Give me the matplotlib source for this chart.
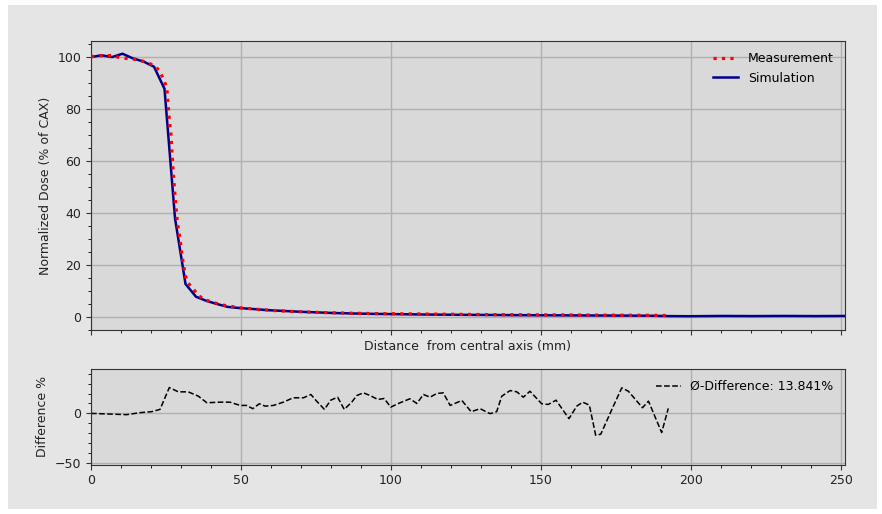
import matplotlib
matplotlib.use('Agg')
import matplotlib.pyplot as plt
from matplotlib.patches import Rectangle
from matplotlib.ticker import MultipleLocator

plt.rcParams['font.size'] = 9

# measured profile (red dotted)
meas_x = [0, 1.3, 4.1, 6.9, 9.7, 12.4, 15.2, 18.0, 20.6, 22.7, 23.9, 25.0, 25.4, 26.1, 26.7,
          27.2, 28.0, 28.8, 29.7, 30.4, 31.3, 32.1, 34.1, 35.8, 38.3, 41.0, 43.9, 46.6, 49.1,
          55, 60.8, 68, 77.4, 85, 95, 105, 115, 125, 135, 145, 155, 165, 175, 185, 191.5]
meas_y = [100.3, 100.2, 100.6, 100.6, 99.8, 99.4, 99.1, 98.2, 97.0, 95.0, 92.1, 89.0, 86.3, 75.9, 69.5,
          59.3, 46.5, 36.2, 29.8, 23.2, 16.8, 13.4, 10.8, 8.2, 6.5, 5.5, 4.6, 4.1, 3.6,
          3.0, 2.5, 2.1, 1.7, 1.5, 1.3, 1.2, 1.1, 1.0, 0.9, 0.85, 0.8, 0.75, 0.7, 0.65, 0.6]

# simulated profile (blue)
sim_x = [0, 3.5, 7, 10.5, 14, 17.5, 21, 24.5, 28, 31.5, 35, 38.5, 42, 45.5, 49, 52.5, 56, 59.5,
         63, 66.5, 70, 77, 80.5, 87.5, 94.5, 101.5, 112, 122.5, 133, 143.5, 154, 164.5, 175,
         185.5, 192.5, 199.5, 210, 220.5, 231, 241.5, 251.3]
sim_y = [100.0, 100.7, 100.0, 101.3, 99.5, 98.3, 96.3, 87.8, 38.0, 12.7, 7.8, 6.2, 5.0, 3.9, 3.5, 3.2, 2.9, 2.6,
         2.4, 2.2, 2.0, 1.7, 1.55, 1.35, 1.2, 1.1, 0.95, 0.85, 0.78, 0.7, 0.65, 0.6, 0.55,
         0.5, 0.35, 0.3, 0.4, 0.35, 0.4, 0.35, 0.4]

# relative difference (%)
diff_x = [0, 11.9, 16.3, 20.2, 23.0, 26.1, 29.1, 32.4, 35.8, 38.6, 43.0, 46.3, 49.7, 51.9, 53.9,
          56.1, 58.0, 60.8, 64.1, 67.4, 70.8, 73.3, 75.2, 77.8, 79.9, 82.2, 84.4, 86.9, 88.6,
          90.8, 93.0, 95.6, 97.7, 99.9, 103.0, 106.3, 108.6, 110.8, 113.0, 115.2, 117.4, 119.7,
          123.6, 126.7, 129.7, 133.0, 135.2, 136.9, 139.7, 141.9, 144.1, 146.3, 150.2, 152.4,
          155.0, 159.3, 161.9, 163.9, 166.1, 168.2, 169.9, 173.6, 176.9, 179.1, 183.8, 185.8,
          190.2, 192.4]
diff_y = [0, -1.3, 0.7, 1.7, 4.0, 26.0, 21.7, 21.7, 17.3, 10.7, 11.3, 11.3, 8.0, 8.0, 4.7,
          9.7, 7.3, 8.0, 11.3, 15.7, 15.7, 19.0, 12.3, 4.0, 13.3, 16.3, 4.0, 11.3, 18.0,
          20.7, 18.0, 14.0, 15.0, 6.3, 10.7, 14.7, 10.0, 19.0, 16.3, 20.0, 20.7, 8.0,
          13.0, 1.7, 4.7, -0.3, 1.7, 17.3, 23.0, 21.7, 16.3, 22.3, 9.7, 9.0,
          13.3, -5.3, 7.3, 11.3, 8.3, -22.0, -21.0, 4.0, 25.7, 22.3, 5.7, 12.3,
          -19.3, 5.0]
mean_diff = 13.841

fig = plt.figure(figsize=(8.82, 5.14), dpi=100, facecolor='white')
# grey panel behind everything
fig.patches.append(Rectangle((8/882, 5/514), 869/882, 504/514, transform=fig.transFigure,
                             facecolor='#e5e5e5', edgecolor='none', zorder=-10))

ax1 = fig.add_axes([91/882, 1-330/514, 754/882, 289/514])
ax2 = fig.add_axes([91/882, 1-464.5/514, 754/882, 95.5/514], sharex=ax1)

for ax in (ax1, ax2):
    ax.set_facecolor('#d9d9d9')
    ax.grid(True, color='#b0b0b0', linewidth=1.0)
    ax.set_axisbelow(True)
    ax.xaxis.set_major_locator(MultipleLocator(50))
    ax.xaxis.set_minor_locator(MultipleLocator(10))
    for s in ax.spines.values():
        s.set_color('#333333')
    ax.tick_params(colors='#333333', labelcolor='#222222', labelsize=9)

ax1.plot(meas_x, meas_y, color='red', linestyle=':', linewidth=2.3, label='Measurement', zorder=3)
ax1.plot(sim_x, sim_y, color='#00008b', linewidth=1.8, label='Simulation', zorder=2)
ax1.set_xlim(0, 251.3)
ax1.set_ylim(-5, 106.2)
ax1.yaxis.set_major_locator(MultipleLocator(20))
ax1.yaxis.set_minor_locator(MultipleLocator(5))
ax1.tick_params(axis='x', labelbottom=False)
ax1.set_ylabel('Normalized Dose (% of CAX)', color='#222222')
ax1.set_xlabel('Distance  from central axis (mm)', color='#222222', labelpad=2)
ax1.legend(loc='upper right', frameon=False, fontsize=9)

ax2.plot(diff_x, diff_y, color='black', linestyle='--', linewidth=1.1,
         label='Ø-Difference: %.3f%%' % mean_diff)
ax2.set_ylim(-51.5, 44.7)
ax2.yaxis.set_major_locator(MultipleLocator(50))
ax2.yaxis.set_minor_locator(MultipleLocator(10))
ax2.set_ylabel('Difference %', color='#222222')
ax2.legend(loc='upper right', frameon=False, fontsize=9)

fig.savefig('out.png', dpi=100, facecolor=fig.get_facecolor())
